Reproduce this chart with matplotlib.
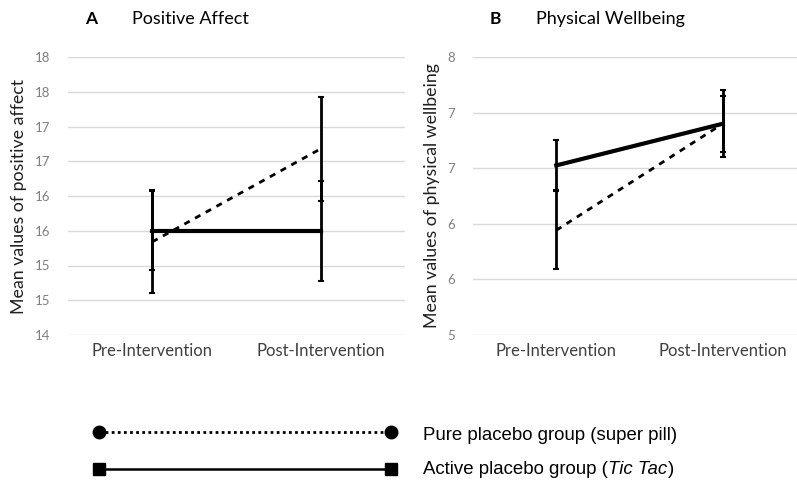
import matplotlib.pyplot as plt
from matplotlib.ticker import FixedLocator, FuncFormatter

# data
phases = ['Pre-Intervention', 'Post-Intervention']

pa_pure = [15.34, 16.68]
pa_pure_err = [0.74, 0.75]
pa_active = [15.5, 15.5]
pa_active_err = [0.57, 0.72]

pw_pure = [6.13, 7.28]
pw_pure_err = [0.42, 0.36]
pw_active = [6.83, 7.28]
pw_active_err = [0.27, 0.30]

pa_ticks = [14, 14.5, 15, 15.5, 16, 16.5, 17, 17.5, 18]
pw_ticks = [5, 5.6, 6.2, 6.8, 7.4, 8]

font = 'Lato'
W, H = 797, 483
fig = plt.figure(figsize=(W / 100, H / 100), dpi=100)


def excel_round(v, pos=None):
    return '%d' % int(v + 0.5 + 1e-9)


def panel(rect, pure, pure_err, active, active_err, ticks, ylabel, letter, title):
    ax = fig.add_axes(rect)
    x = [0, 1]
    ax.errorbar(x, active, yerr=active_err, color='black', lw=3, elinewidth=2,
                capsize=2.5, capthick=1.5, zorder=3)
    ax.errorbar(x, pure, yerr=pure_err, color='black', lw=2, ls=(0, (2.2, 2.2)),
                elinewidth=2, capsize=2.5, capthick=1.5, zorder=3)
    ax.set_xlim(-0.5, 1.5)
    ax.set_ylim(ticks[0], ticks[-1])
    ax.yaxis.set_major_locator(FixedLocator(ticks))
    ax.yaxis.set_major_formatter(FuncFormatter(excel_round))
    ax.set_xticks(x)
    ax.set_xticklabels(phases, family=font, fontsize=12, color='#404040')
    for lab in ax.get_yticklabels():
        lab.set_family(font)
    ax.tick_params(axis='y', length=0, pad=13, labelsize=9.5, labelcolor='#7f7f7f')
    ax.tick_params(axis='x', length=0, pad=6)
    ax.grid(axis='y', color='#d9d9d9', lw=1)
    ax.set_axisbelow(True)
    for s in ax.spines.values():
        s.set_visible(False)
    ax.set_ylabel(ylabel, family=font, fontsize=12.8, color='#202020', labelpad=5)
    ax.text(0.05, 1.135, letter, transform=ax.transAxes, family=font,
            fontsize=12.5, fontweight='bold', va='center')
    ax.text(0.19, 1.135, title, transform=ax.transAxes, family=font,
            fontsize=13, va='center')
    return ax


bottom = 1 - 335 / H
height = (335 - 57) / H
panel([68 / W, bottom, 337 / W, height], pa_pure, pa_pure_err, pa_active,
      pa_active_err, pa_ticks, 'Mean values of positive affect', 'A', 'Positive Affect')
panel([473 / W, bottom, 333 / W, height], pw_pure, pw_pure_err, pw_active,
      pw_active_err, pw_ticks, 'Mean values of physical wellbeing', 'B', 'Physical Wellbeing')

# legend drawn at the bottom
lg = fig.add_axes([0, 0, 1, 1])
lg.set_xlim(0, W)
lg.set_ylim(H, 0)
lg.axis('off')
lg.plot([99, 391], [432, 432], color='black', lw=2, ls=(0, (1, 1.2)),
        marker='o', markersize=9)
lg.plot([99, 391], [469, 469], color='black', lw=1.8, marker='s', markersize=8)
lfont = dict(family='Liberation Sans', fontsize=13.4, va='center')
lg.text(423, 435, 'Pure placebo group (super pill)', **lfont)

# second legend line with italic part
renderer = fig.canvas.get_renderer()
x0 = 423
for part, style in [('Active placebo group (', 'normal'), ('Tic Tac', 'italic'), (')', 'normal')]:
    t = lg.text(x0, 469, part, style=style, **lfont)
    bb = t.get_window_extent(renderer)
    x0 += bb.width
    if style == 'italic':
        x0 += 1

fig.savefig('out.png', dpi=100)
